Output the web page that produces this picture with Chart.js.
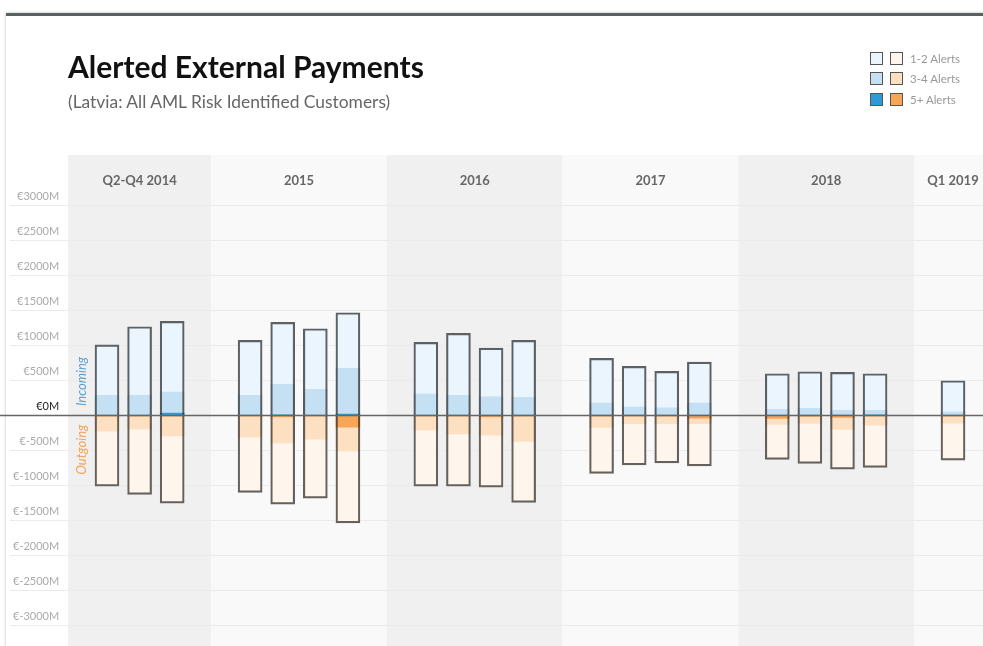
<!DOCTYPE html>
<html lang="en">
<head>
  <meta charset="UTF-8" />
  <title>Alerted External Payments</title>
  <style>
    body { margin: 0; background: #fff; font-family: Lato, "Noto Sans", sans-serif; overflow: hidden; }
    .card { position: absolute; left: 6px; top: 13px; width: 1000px; height: 700px; border-top: 3px solid #5a6163; box-shadow: 0 0 3px rgba(0,0,0,0.25); background: #fff; }
    #chart { position: absolute; left: 0; top: 0; }
    h1 { position: absolute; left: 68px; top: 51px; margin: 0; font-size: 30px; line-height: 30px; font-weight: bold; color: #111; }
    .sub { position: absolute; left: 68px; top: 93px; margin: 0; font-size: 17.4px; line-height: 17px; color: #666; }
    .legend { position: absolute; left: 870px; top: 48px; font-size: 11.5px; color: #999; }
    .legend .row { height: 20.5px; display: flex; align-items: center; }
    .legend .sw { width: 11px; height: 11px; border: 1px solid #555; margin-right: 7px; box-sizing: content-box; }
  </style>
</head>
<body>
  <div class="card"></div>
  <canvas id="chart" width="983" height="646"></canvas>
  <h1>Alerted External Payments</h1>
  <div class="sub">(Latvia: All AML Risk Identified Customers)</div>
  <div class="legend" id="legend"></div>

  <script src="https://cdn.jsdelivr.net/npm/chart.js"></script>
  <script>
    // periods shown as shaded columns, and how many quarters each holds
    const periods = ['Q2-Q4 2014', '2015', '2016', '2017', '2018', 'Q1 2019'];
    const quartersPerPeriod = [3, 4, 4, 4, 4, 1];
    const quarters = ['Q2 2014', 'Q3 2014', 'Q4 2014',
      'Q1 2015', 'Q2 2015', 'Q3 2015', 'Q4 2015',
      'Q1 2016', 'Q2 2016', 'Q3 2016', 'Q4 2016',
      'Q1 2017', 'Q2 2017', 'Q3 2017', 'Q4 2017',
      'Q1 2018', 'Q2 2018', 'Q3 2018', 'Q4 2018',
      'Q1 2019'];

    // incoming payments, EUR millions, by number of alerts
    const in12 = [722, 980, 1010, 785, 885, 866, 795, 739, 885, 695, 814, 638, 582, 520, 585, 508, 523, 543, 523, 443];
    const in34 = [281, 281, 301, 284, 436, 366, 654, 302, 284, 264, 257, 176, 118, 108, 176, 86, 100, 71, 64, 51];
    const in5  = [8, 8, 35, 5, 10, 8, 20, 5, 5, 5, 3, 3, 3, 3, 3, 3, 3, 3, 10, 3];
    // outgoing payments, EUR millions, by number of alerts
    const out12 = [786, 937, 961, 794, 875, 843, 1028, 804, 747, 742, 871, 657, 586, 557, 600, 500, 572, 567, 604, 529];
    const out34 = [216, 184, 284, 298, 369, 328, 339, 198, 255, 259, 364, 164, 112, 112, 82, 86, 101, 172, 131, 104];
    const out5  = [5, 5, 5, 5, 20, 8, 164, 5, 5, 20, 5, 5, 5, 5, 35, 40, 10, 25, 5, 3];

    const yTicks = [3000, 2500, 2000, 1500, 1000, 500, 0, -500, -1000, -1500, -2000, -2500, -3000];
    const alertLabels = ['1-2 Alerts', '3-4 Alerts', '5+ Alerts'];
    const inColors = ['#eaf5fd', '#c6e0f3', '#2f9bd6'];
    const outColors = ['#fef5ec', '#fde0c2', '#f7a656'];
    const bandColors = ['#f0f0f0', '#f9f9f9'];

    // x position of each quarter: one unit per quarter plus an extra gap between periods
    const GAP = 1.39;
    const xPos = [];
    const bands = [];
    let q = 0;
    quartersPerPeriod.forEach((n, p) => {
      const first = q + p * GAP;
      for (let k = 0; k < n; k++) xPos.push(q + k + p * GAP);
      q += n;
      const last = first + n - 1;
      bands.push({ from: first - 0.5 - GAP / 2, to: last + 0.5 + GAP / 2, mid: (first + last) / 2 });
    });

    function seg(lo, hi) { return xPos.map((x, i) => ({ x: x, y: [lo(i), hi(i)] })); }
    const inTotal = i => in12[i] + in34[i] + in5[i];
    const outTotal = i => out12[i] + out34[i] + out5[i];

    const datasets = [
      // outline round each quarter's incoming + outgoing column
      { data: seg(i => -outTotal(i), inTotal), backgroundColor: 'rgba(0,0,0,0)', borderColor: 'rgba(40,40,40,0.72)', borderWidth: 1.5, borderSkipped: false, order: 0 },
      { label: 'In 5+', data: seg(() => 0, i => in5[i]), backgroundColor: inColors[2], order: 1 },
      { label: 'In 3-4', data: seg(i => in5[i], i => in5[i] + in34[i]), backgroundColor: inColors[1], order: 1 },
      { label: 'In 1-2', data: seg(i => in5[i] + in34[i], inTotal), backgroundColor: inColors[0], order: 1 },
      { label: 'Out 5+', data: seg(i => -out5[i], () => 0), backgroundColor: outColors[2], order: 1 },
      { label: 'Out 3-4', data: seg(i => -(out5[i] + out34[i]), i => -out5[i]), backgroundColor: outColors[1], order: 1 },
      { label: 'Out 1-2', data: seg(i => -outTotal(i), i => -(out5[i] + out34[i])), backgroundColor: outColors[0], order: 1 }
    ];

    const bandsPlugin = {
      id: 'bands',
      beforeDraw(chart) {
        const { ctx, scales: { x } } = chart;
        ctx.save();
        bands.forEach((b, i) => {
          const l = x.getPixelForValue(b.from), r = x.getPixelForValue(b.to);
          ctx.fillStyle = bandColors[i % 2];
          ctx.fillRect(l, 155, r - l, chart.height - 155);
        });
        ctx.restore();
      }
    };

    const zeroPlugin = {
      id: 'zero',
      afterDatasetsDraw(chart) {
        const { ctx, scales: { x, y } } = chart;
        const y0 = y.getPixelForValue(0);
        ctx.save();
        ctx.strokeStyle = '#666';
        ctx.lineWidth = 1.5;
        ctx.beginPath();
        ctx.moveTo(0, y0);
        ctx.lineTo(chart.width, y0);
        ctx.stroke();
        // direction labels
        const lx = x.getPixelForValue(bands[0].from) + 14;
        ctx.font = 'italic 13px Lato, sans-serif';
        ctx.textBaseline = 'middle';
        ctx.translate(lx, y0);
        ctx.rotate(-Math.PI / 2);
        ctx.fillStyle = '#5a9fd0';
        ctx.textAlign = 'left';
        ctx.fillText('Incoming', 9.5, 0);
        ctx.fillStyle = '#f5a24e';
        ctx.textAlign = 'right';
        ctx.fillText('Outgoing', -9, 0);
        ctx.restore();
      }
    };

    new Chart(document.getElementById('chart'), {
      type: 'bar',
      data: { datasets: datasets },
      options: {
        responsive: false,
        animation: false,
        layout: { padding: { left: 10, top: 150, right: 0, bottom: 0 } },
        datasets: { bar: { grouped: false, barThickness: 24, borderWidth: 0 } },
        plugins: { legend: { display: false }, tooltip: { enabled: false } },
        scales: {
          x: {
            type: 'linear', position: 'top', offset: false,
            min: -2.975, max: 26.87,
            grid: { display: false, drawTicks: false },
            border: { display: false },
            afterBuildTicks: s => { s.ticks = bands.map(b => ({ value: b.mid })); },
            afterFit: s => { s.height = 41.5; s.paddingLeft = 0; s.paddingRight = 0; },
            ticks: {
              autoSkip: false, maxRotation: 0, padding: 3, color: '#666',
              font: { family: 'Lato', size: 13, weight: 'bold' },
              callback: (v, i) => periods[i]
            }
          },
          y: {
            type: 'linear', min: -3290, max: 3200,
            grid: { color: '#ebebeb', drawTicks: false },
            border: { display: false },
            afterBuildTicks: s => { s.ticks = yTicks.map(v => ({ value: v })); },
            afterFit: s => { s.width = 0; s.paddingTop = 0; s.paddingBottom = 0; },
            ticks: {
              mirror: true, crossAlign: 'far', padding: 3, labelOffset: -9.5,
              color: c => (c.tick && c.tick.value === 0 ? '#222' : '#aaa'),
              font: { family: 'Lato', size: 11 },
              callback: v => '€' + v + 'M'
            }
          }
        }
      },
      plugins: [bandsPlugin, zeroPlugin]
    });

    // legend: one blue and one orange swatch per alert level
    const legend = document.getElementById('legend');
    alertLabels.forEach((label, i) => {
      const row = document.createElement('div');
      row.className = 'row';
      row.innerHTML = '<span class="sw" style="background:' + inColors[i] + '"></span>' +
        '<span class="sw" style="background:' + outColors[i] + '"></span>' + label;
      legend.appendChild(row);
    });
  </script>
</body>
</html>
